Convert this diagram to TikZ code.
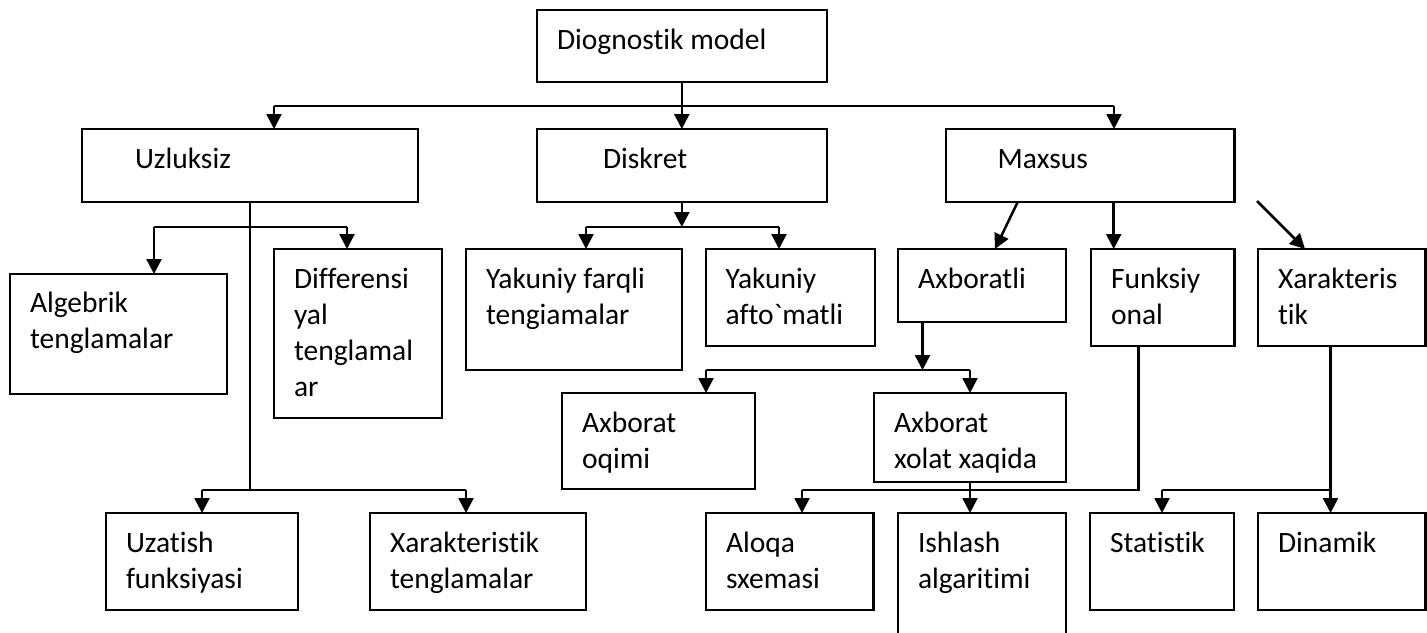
\documentclass[tikz,border=0pt]{standalone}
\usepackage{fontspec}
\newfontfamily\calfont{Carlito}[Ligatures=NoCommon]
\usetikzlibrary{arrows.meta,calc}
\begin{document}
\begin{tikzpicture}[x=1pt,y=-1pt,
  box/.style={draw,line width=2.2pt,anchor=north west,inner sep=0,outer sep=0},
  txt/.style={anchor=base west,inner sep=0,outer sep=0,align=left,font=\calfont\fontsize{29.5}{36}\selectfont},
  conn/.style={line width=2.5pt},
  arr/.style={line width=2.5pt,-{Triangle[length=15pt,width=15pt]}}]
\useasboundingbox (0,0) rectangle (1427,632);
\fill[white] (0,0) rectangle (1427,632);
\clip (0,0) rectangle (1427,632);
% boxes
\node[box,minimum width=289.6pt,minimum height=72pt] (dm) at (537,10) {};
\node[box,minimum width=336pt,minimum height=73pt] (uz) at (82,129) {};
\node[box,minimum width=289.6pt,minimum height=73pt] (di) at (537,129) {};
\node[box,minimum width=288.8pt,minimum height=73pt] (ma) at (945.7,129) {};
\node[box,minimum width=216.7pt,minimum height=120pt] (al) at (10,274) {};
\node[box,minimum width=168pt,minimum height=169pt] (df) at (274,249) {};
\node[box,minimum width=216pt,minimum height=121pt] (yf) at (466,249) {};
\node[box,minimum width=169.2pt,minimum height=97pt] (ya) at (705.6,249) {};
\node[box,minimum width=168pt,minimum height=73pt] (ax) at (898,249) {};
\node[box,minimum width=143.5pt,minimum height=97pt] (fu) at (1091,249) {};
\node[box,minimum width=167.5pt,minimum height=97pt] (xa) at (1258,249) {};
\node[box,minimum width=192.7pt,minimum height=96pt] (ao) at (562,393) {};
\node[box,minimum width=192pt,minimum height=89pt] (ac) at (874,393) {};
\node[box,minimum width=192pt,minimum height=97pt] (ut) at (106,513) {};
\node[box,minimum width=216pt,minimum height=97pt] (xt) at (370,513) {};
\node[box,minimum width=167.5pt,minimum height=97pt] (aq) at (706,513) {};
\node[box,minimum width=168pt,minimum height=140pt] (is) at (898,513) {};
\node[box,minimum width=144pt,minimum height=97pt] (st) at (1090,513) {};
\node[box,minimum width=167.5pt,minimum height=97pt] (dn) at (1258,513) {};
% texts (anchor = baseline of last line)
\node[txt] (dmT) at ([shift={(20,39)}]dm.north west) {Diognostik model};
\node[txt] (uzT) at ([shift={(53,39)}]uz.north west) {Uzluksiz};
\node[txt] (diT) at ([shift={(66,39)}]di.north west) {Diskret};
\node[txt] (maT) at ([shift={(52,39)}]ma.north west) {Maxsus};
\node[txt] (alT) at ([shift={(20,74)}]al.north west) {Algebrik\\tenglamalar};
\node[txt] (dfT) at ([shift={(20,147)}]df.north west) {Differensi\\yal\\tenglamal\\ar};
\node[txt] (yfT) at ([shift={(20,75)}]yf.north west) {Yakuniy farqli\\tengiamalar};
\node[txt] (yaT) at ([shift={(20,75)}]ya.north west) {Yakuniy\\afto`matli};
\node[txt] (axT) at ([shift={(20,39)}]ax.north west) {Axboratli};
\node[txt] (fuT) at ([shift={(20,75)}]fu.north west) {Funksiy\\onal};
\node[txt] (xaT) at ([shift={(20,75)}]xa.north west) {Xarakteris\\tik};
\node[txt] (aoT) at ([shift={(20,75)}]ao.north west) {Axborat\\oqimi};
\node[txt] (acT) at ([shift={(20,75)}]ac.north west) {Axborat\\xolat xaqida};
\node[txt] (utT) at ([shift={(20,75)}]ut.north west) {Uzatish\\funksiyasi};
\node[txt] (xtT) at ([shift={(20,75)}]xt.north west) {Xarakteristik\\tenglamalar};
\node[txt] (aqT) at ([shift={(20,75)}]aq.north west) {Aloqa\\sxemasi};
\node[txt] (isT) at ([shift={(20,75)}]is.north west) {Ishlash\\algaritimi};
\node[txt] (stT) at ([shift={(20,39)}]st.north west) {Statistik};
\node[txt] (dnT) at ([shift={(20,39)}]dn.north west) {Dinamik};
% junction coordinates
\coordinate (hL) at (274,106);
\coordinate (hR) at (1114,106);
\coordinate (a1) at (154,227);
\coordinate (a2) at (347,227);
\coordinate (b1) at (202,490);
\coordinate (b2) at (466,490);
\coordinate (c1) at (586,227);
\coordinate (c2) at (779,227);
\coordinate (d0) at ([xshift=24.5pt]ax.south west);
\coordinate (d1) at (706,370);
\coordinate (d2) at (970,370);
\coordinate (e0) at ([xshift=47.6pt]fu.south west);
\coordinate (e1) at (802,490);
\coordinate (f0) at ([xshift=72.5pt]xa.south west);
\coordinate (f1) at (1162,490);
\coordinate (m1) at ([xshift=72pt]ma.south west);
\coordinate (m2) at ([xshift=168pt]ma.south west);
\coordinate (m3) at ([shift={(22.5,-1)}]ma.south east);
% connectors: top level
\draw[arr] (dm.south) -- (dm.south |- di.north);
\draw[conn] (hL) -- (hR);
\draw[arr] (hL) -- (hL |- uz.north);
\draw[arr] (hR) -- (hR |- ma.north);
% Uzluksiz
\draw[conn] (uz.south) -- (uz.south |- b1);
\draw[conn] (a1) -- (a2);
\draw[arr] (a1) -- (a1 |- al.north);
\draw[arr] (a2) -- (a2 |- df.north);
\draw[conn] (b1) -- (b2);
\draw[arr] (b1) -- (b1 |- ut.north);
\draw[arr] (b2) -- (b2 |- xt.north);
% Diskret
\draw[arr] (di.south) -- (di.south |- c1);
\draw[conn] (c1) -- (c2);
\draw[arr] (c1) -- (c1 |- yf.north);
\draw[arr] (c2) -- (c2 |- ya.north);
% Maxsus
\draw[arr] (m1) -- ([xshift=97pt]ax.north west);
\draw[arr] (m2) -- (m2 |- fu.north);
\draw[arr] (m3) -- ([xshift=47pt]xa.north west);
% Axboratli
\draw[arr] (d0) -- (d0 |- d1);
\draw[conn] (d1) -- (d2);
\draw[arr] (d1) -- (d1 |- ao.north);
\draw[arr] (d2) -- (d2 |- ac.north);
% Funksiyonal
\draw[conn] (e0) -- (e0 |- e1) -- (e1);
\draw[arr] (e1) -- (e1 |- aq.north);
\draw[arr] (ac.south) -- (ac.south |- is.north);
% Xarakteristik
\draw[arr] (f0) -- (f0 |- dn.north);
\draw[conn] (f1) -- (f0 |- f1);
\draw[arr] (f1) -- (f1 |- st.north);
\end{tikzpicture}
\end{document}
